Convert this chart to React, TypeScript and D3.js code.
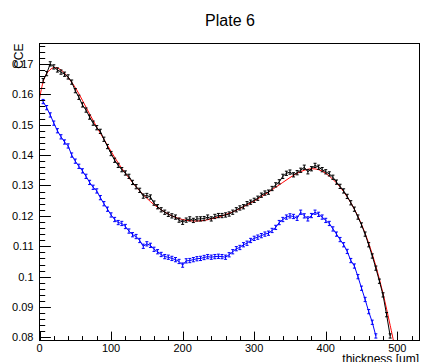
import React from "react";
import * as d3 from "d3";

const TITLE = "Plate 6";
const X_LABEL = "thickness [um]";
const Y_LABEL = "CCE";
const X_TICKS = [0, 100, 200, 300, 400, 500];
const Y_TICKS = [0.08, 0.09, 0.1, 0.11, 0.12, 0.13, 0.14, 0.15, 0.16, 0.17];
const Y_TICK_LABELS = ["0.08", "0.09", "0.1", "0.11", "0.12", "0.13", "0.14", "0.15", "0.16", "0.17"];

const STEP_START = 5;
const STEP = 5;

const blackValues = [
  0.1645, 0.1668, 0.17, 0.169, 0.168, 0.1673, 0.1666, 0.1657, 0.164, 0.1612,
  0.159, 0.1565, 0.1548, 0.1525, 0.1505, 0.149, 0.1478, 0.1452, 0.1428, 0.1405,
  0.1383, 0.1366, 0.1352, 0.1341, 0.133, 0.131, 0.1296, 0.1284, 0.1265, 0.1267,
  0.1262, 0.1242, 0.123, 0.122, 0.1212, 0.1205, 0.12, 0.1196, 0.1186, 0.1179,
  0.1186, 0.119, 0.1185, 0.119, 0.119, 0.1191, 0.1196, 0.119, 0.1198, 0.1201,
  0.1201, 0.1203, 0.1206, 0.1212, 0.122, 0.1226, 0.123, 0.124, 0.1245, 0.1251,
  0.1258, 0.1268, 0.1275, 0.1278, 0.129, 0.1302, 0.1312, 0.133, 0.134, 0.1344,
  0.1335, 0.1342, 0.135, 0.136, 0.1345, 0.1355, 0.1366, 0.136, 0.1352, 0.1345,
  0.1338, 0.1327, 0.1311, 0.1297, 0.1282, 0.1264, 0.1243, 0.1222, 0.1196, 0.117,
  0.114, 0.1105, 0.1068, 0.1028, 0.0985, 0.094, 0.0875, 0.0805,
];

const blueValues = [
  0.1576, 0.1556, 0.1532, 0.1505, 0.148, 0.146, 0.1443, 0.143, 0.14, 0.138,
  0.1363, 0.1348, 0.133, 0.131, 0.1294, 0.1282, 0.126, 0.124, 0.1222, 0.1203,
  0.1188, 0.1178, 0.1175, 0.1165, 0.115, 0.1138, 0.1132, 0.1119, 0.11, 0.1108,
  0.1103, 0.109, 0.1082, 0.1073, 0.1066, 0.1064, 0.106, 0.1056, 0.105, 0.1038,
  0.1052, 0.1053, 0.1056, 0.1059, 0.106, 0.1063, 0.1066, 0.1064, 0.1066, 0.1067,
  0.1066, 0.1064, 0.1072, 0.1082, 0.1092, 0.1096, 0.1105, 0.111, 0.1119, 0.1126,
  0.113, 0.1135, 0.114, 0.1143, 0.1152, 0.1162, 0.1178, 0.1188, 0.1196, 0.12,
  0.1198, 0.1192, 0.1212, 0.12, 0.119, 0.1201, 0.1212, 0.1205, 0.1196, 0.1185,
  0.1175, 0.1157, 0.114, 0.1122, 0.1105, 0.1083, 0.1053, 0.1035, 0.1, 0.0962,
  0.0925, 0.0885, 0.085, 0.0805,
];

const fitX = [0, 5, 10, 20, 30, 40, 50, 60, 70, 80, 90, 100, 110, 120, 130, 140, 150, 160, 170, 180, 190, 200, 210, 220, 230, 240, 250, 260, 270, 280, 290, 300, 310, 320, 330, 340, 350, 360, 370, 380, 390, 400, 410, 420, 430, 440, 450, 460, 470, 480, 490, 495];
const fitY = [0.1585, 0.164, 0.1668, 0.1688, 0.168, 0.1655, 0.1622, 0.158, 0.1535, 0.1492, 0.1452, 0.1412, 0.1374, 0.134, 0.131, 0.1282, 0.1258, 0.1237, 0.122, 0.1206, 0.1195, 0.1188, 0.1184, 0.1183, 0.1185, 0.119, 0.1196, 0.1204, 0.1213, 0.1224, 0.1236, 0.1249, 0.1263, 0.1278, 0.1294, 0.131, 0.1326, 0.134, 0.135, 0.1355, 0.1352, 0.134, 0.132, 0.1295, 0.1262, 0.1222, 0.1172, 0.111, 0.1035, 0.0945, 0.084, 0.0785];

const BLACK_ERR = 0.0007;
const BLUE_ERR = 0.0007;

const W = 421;
const H = 362;
const L = 39.5;
const R = 419.5;
const T = 43.5;
const B = 340.5;

export default function App() {
  const x = d3.scaleLinear().domain([0, 531]).range([L, R]);
  const y = d3.scaleLinear().domain([0.079, 0.1767]).range([B, T]);

  const blackPts = blackValues.map((v, i) => ({ x: STEP_START + i * STEP, v }));
  const bluePts = blueValues.map((v, i) => ({ x: STEP_START + i * STEP, v }));
  const fitPts = fitX.map((xx, i) => ({ x: xx, v: fitY[i] }));

  const line = d3
    .line<{ x: number; v: number }>()
    .x((d) => x(d.x))
    .y((d) => y(d.v));
  const fitLine = d3
    .line<{ x: number; v: number }>()
    .x((d) => x(d.x))
    .y((d) => y(d.v))
    .curve(d3.curveCatmullRom);

  const xMinor = d3.range(0, 531, 20);
  const yMinor = d3.range(0.08, 0.1767, 0.002);

  const yTickLen = 11.4;
  const xTickLen = 8.9;

  const errBars = (pts: { x: number; v: number }[], err: number, color: string) =>
    pts.map((p, i) => {
      const cx = x(p.x);
      const y1 = y(p.v - err);
      const y2 = y(p.v + err);
      return (
        <g key={i} stroke={color} strokeWidth={1}>
          <line x1={cx} x2={cx} y1={y1} y2={y2} />
          <line x1={cx - 1.5} x2={cx + 1.5} y1={y1} y2={y1} />
          <line x1={cx - 1.5} x2={cx + 1.5} y1={y2} y2={y2} />
        </g>
      );
    });

  return (
    <svg
      width={W}
      height={H}
      style={{ position: "fixed", left: 0, top: 0, background: "#fff" }}
      fontFamily="'Liberation Sans', Arial, sans-serif"
    >
      <defs>
        <clipPath id="frameClip">
          <rect x={L} y={T} width={R - L} height={B - T} />
        </clipPath>
      </defs>
      <rect x={0} y={0} width={W} height={H} fill="#fff" />

      <text x={230} y={26} fontSize={16} textAnchor="middle" fill="#000">
        {TITLE}
      </text>

      <g clipPath="url(#frameClip)" fill="none">
        <path d={fitLine(fitPts) || ""} stroke="#ff0000" strokeWidth={1} />
        <path d={line(bluePts) || ""} stroke="#0000ff" strokeWidth={1} />
        {errBars(bluePts, BLUE_ERR, "#0000ff")}
        <path d={line(blackPts) || ""} stroke="#000" strokeWidth={1} />
        {errBars(blackPts, BLACK_ERR, "#000")}
      </g>

      <rect x={L} y={T} width={R - L} height={B - T} fill="none" stroke="#000" strokeWidth={1} />

      {/* y ticks */}
      <g stroke="#000" strokeWidth={1}>
        {yMinor.map((t, i) => (
          <line key={"ym" + i} x1={L} x2={L + yTickLen / 2} y1={Math.round(y(t)) + 0.5} y2={Math.round(y(t)) + 0.5} />
        ))}
        {Y_TICKS.map((t, i) => (
          <line key={"yM" + i} x1={L} x2={L + yTickLen} y1={Math.round(y(t)) + 0.5} y2={Math.round(y(t)) + 0.5} />
        ))}
        {xMinor.map((t, i) => (
          <line key={"xm" + i} x1={Math.round(x(t)) + 0.5} x2={Math.round(x(t)) + 0.5} y1={B} y2={B - xTickLen / 2} />
        ))}
        {X_TICKS.map((t, i) => (
          <line key={"xM" + i} x1={Math.round(x(t)) + 0.5} x2={Math.round(x(t)) + 0.5} y1={B} y2={B - xTickLen} />
        ))}
      </g>

      {Y_TICKS.map((t, i) => (
        <text key={"yl" + i} x={33.5} y={y(t)} dy="0.35em" fontSize={11} textAnchor="end" fill="#000">
          {Y_TICK_LABELS[i]}
        </text>
      ))}
      {X_TICKS.map((t, i) => (
        <text key={"xl" + i} x={x(t)} y={351.5} fontSize={11} textAnchor="middle" fill="#000">
          {t}
        </text>
      ))}

      <text x={419} y={363} fontSize={12} textAnchor="end" fill="#000">
        {X_LABEL}
      </text>
      <text
        transform={`translate(23.3, ${T}) rotate(-90)`}
        fontSize={12}
        textAnchor="end"
        fill="#000"
      >
        {Y_LABEL}
      </text>
    </svg>
  );
}
